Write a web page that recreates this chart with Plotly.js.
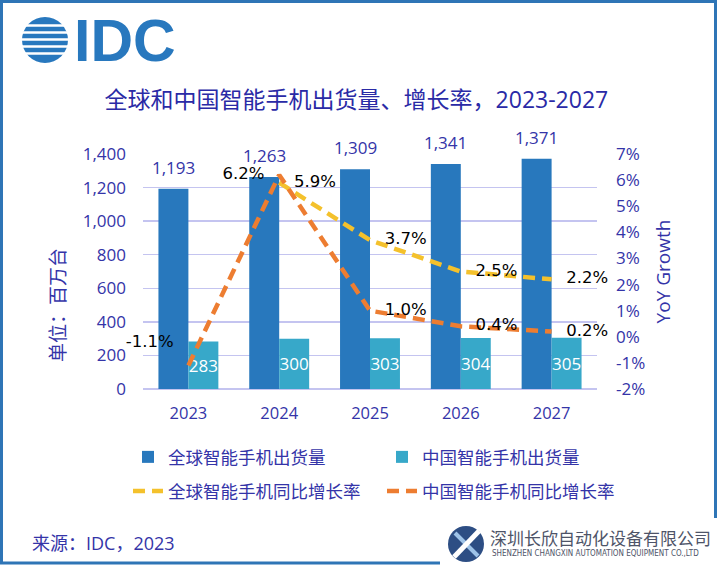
<!DOCTYPE html>
<html><head><meta charset="utf-8">
<script src="https://cdn.plot.ly/plotly-3.0.1.min.js"></script>
<style>html,body{margin:0;padding:0;background:#fff}#chart{width:720px;height:565px}</style>
</head><body><div id="chart"></div>
<script>
// ---- data ----
const years = ['2023', '2024', '2025', '2026', '2027'];
const globalShipments = [1193, 1263, 1309, 1341, 1371];
const chinaShipments = [283, 300, 303, 304, 305];
const globalYoY = [null, 5.9, 3.7, 2.5, 2.2];
const chinaYoY = [-1.1, 6.2, 1.0, 0.4, 0.2];
const rightTickVals = [-2, -1, 0, 1, 2, 3, 4, 5, 6, 7];
const rightTickText = ['-2%', '-1%', '0%', '1%', '2%', '3%', '4%', '5%', '6%', '7%'];
const seriesNames = ['全球智能手机出货量', '中国智能手机出货量', '全球智能手机同比增长率', '中国智能手机同比增长率'];

// ---- layout geometry helpers (pixels -> paper) ----
const L = 143, R = 597, T = 154, B = 389;
const fx = p => (p - L) / (R - L);
const fy = p => (B - p) / (B - T);

const FONT = 'Open Sans, Noto Sans CJK SC, sans-serif';
const TXT = '#3434A8';
const C_GLOBAL = '#2878BD';
const C_CHINA = '#37A8C9';
const C_YEL = '#F4C12C';
const C_ORA = '#ED7D31';
const LBL = {family: 'DejaVu Sans', size: 16.5, color: '#000000'};

const traces = [
  {type: 'bar', x: years, y: globalShipments, name: seriesNames[0],
   marker: {color: C_GLOBAL}, legend: 'legend', hoverinfo: 'skip'},
  {type: 'bar', x: years, y: chinaShipments, name: seriesNames[1],
   marker: {color: C_CHINA}, texttemplate: '%{y:,}', textposition: 'inside', insidetextanchor: 'middle', textangle: 0,
   textfont: {family: FONT, size: 17, color: '#ffffff'}, constraintext: 'none',
   legend: 'legend', hoverinfo: 'skip'},
  {type: 'scatter', mode: 'lines+markers+text', x: years, y: globalYoY, yaxis: 'y2', name: seriesNames[2],
   line: {color: C_YEL, width: 4.5, dash: '12px,7px'}, connectgaps: false,
   marker: {size: 22, color: 'rgba(0,0,0,0)', line: {width: 0}},
   texttemplate: '%{y:.1f}%', textposition: ['middle right', 'middle right', 'middle right', 'middle right', 'middle right'],
   textfont: LBL, cliponaxis: false, legend: 'legend2', hoverinfo: 'skip'},
  {type: 'scatter', mode: 'lines+markers+text', x: years, y: chinaYoY, yaxis: 'y2', name: seriesNames[3],
   line: {color: C_ORA, width: 4.5, dash: '12px,7px'},
   marker: {size: 22, color: 'rgba(0,0,0,0)', line: {width: 0}},
   texttemplate: '%{y:.1f}%', textposition: ['top left', 'middle left', 'middle right', 'middle right', 'middle right'],
   textfont: LBL, cliponaxis: false, legend: 'legend2', hoverinfo: 'skip'}
];

const shapes = [
  // outer frame
  {type: 'rect', xref: 'paper', yref: 'paper', x0: fx(1.5), x1: fx(715.5), y0: fy(1.5), y1: fy(563), line: {color: '#2E75B6', width: 3}, layer: 'above'},
  // white panel behind company logo
  {type: 'rect', xref: 'paper', yref: 'paper', x0: fx(440), x1: fx(720), y0: fy(518), y1: fy(566), fillcolor: '#ffffff', line: {width: 0}, layer: 'above'},
  // IDC globe
  {type: 'circle', xref: 'paper', yref: 'paper', x0: fx(22), x1: fx(68), y0: fy(63), y1: fy(17), fillcolor: '#2878BE', line: {width: 0}, layer: 'above'},
  // company icon
  {type: 'circle', xref: 'paper', yref: 'paper', x0: fx(448), x1: fx(484), y0: fy(562), y1: fy(526), fillcolor: '#2D4E84', line: {width: 0}, layer: 'above'},
  {type: 'line', xref: 'paper', yref: 'paper', x0: fx(455), x1: fx(478), y0: fy(533), y1: fy(556), line: {color: '#9EC3E8', width: 4}, layer: 'above'},
  {type: 'line', xref: 'paper', yref: 'paper', x0: fx(454), x1: fx(479), y0: fy(557), y1: fy(531), line: {color: '#ffffff', width: 5}, layer: 'above'}
];
[25.5, 32.5, 39.5, 46.5, 53.5].forEach(function (yy, i) {
  shapes.push({type: 'line', xref: 'paper', yref: 'paper', x0: fx(18 + (i % 2) * 4), x1: fx(72), y0: fy(yy), y1: fy(yy), line: {color: '#ffffff', width: 2.5}, layer: 'above'});
});

const annotations = [
  {text: 'IDC', xref: 'paper', yref: 'paper', x: fx(72), y: fy(41), xanchor: 'left', yanchor: 'middle', showarrow: false,
   font: {family: 'Liberation Sans', size: 59, color: '#2878BE', weight: 'bold'}},
  {text: '单位：百万台', xref: 'paper', yref: 'paper', x: fx(58), y: fy(305), xanchor: 'center', yanchor: 'middle', textangle: -90, showarrow: false,
   font: {family: FONT, size: 19, color: TXT}},
  {text: '来源：IDC，2023', xref: 'paper', yref: 'paper', x: fx(30), y: fy(543), xanchor: 'left', yanchor: 'middle', showarrow: false,
   font: {family: FONT, size: 18, color: TXT}},
  {text: '深圳长欣自动化设备有限公司', xref: 'paper', yref: 'paper', x: fx(488), y: fy(537), xanchor: 'left', yanchor: 'middle', showarrow: false,
   font: {family: 'Noto Sans CJK SC', size: 17, color: '#4E5468'}},
  {text: 'SHENZHEN CHANGXIN AUTOMATION EQUIPMENT CO.,LTD', xref: 'paper', yref: 'paper', x: fx(490), y: fy(553), xanchor: 'left', yanchor: 'middle', showarrow: false,
   font: {family: 'Liberation Sans Narrow, DejaVu Sans Condensed, Liberation Sans', size: 8, color: '#4E5468'}}
];
// value labels above the global bars, placed through the data axes (category index)
years.forEach(function (yr, i) {
  annotations.push({text: globalShipments[i].toLocaleString('en-US'), xref: 'x', yref: 'y', x: i, y: globalShipments[i],
    xshift: -15, yshift: 9, xanchor: 'center', yanchor: 'bottom', showarrow: false, borderpad: 0,
    font: {family: FONT, size: 17, color: TXT}});
});

const legendCommon = {orientation: 'h', xanchor: 'left', yanchor: 'middle', entrywidth: 209, entrywidthmode: 'pixels',
  font: {family: FONT, size: 17.5, color: TXT}, bgcolor: 'rgba(0,0,0,0)', borderwidth: 0};

const layout = {
  width: 720, height: 565,
  margin: {l: L, r: 720 - R, t: T, b: 565 - B, pad: 0},
  paper_bgcolor: '#ffffff', plot_bgcolor: '#ffffff',
  font: {family: FONT, color: TXT, size: 17},
  title: {text: '全球和中国智能手机出货量、增长率，2023-2027', xref: 'container', yref: 'container', x: 0.495, y: 1 - 100 / 565,
          xanchor: 'center', yanchor: 'middle', font: {family: FONT, size: 23, color: '#2A2AA6'}},
  barmode: 'group', bargap: 0.34, bargroupgap: 0,
  xaxis: {type: 'category', range: [-0.5, years.length - 0.5], showgrid: false, showline: false, zeroline: false, ticks: '',
          tickfont: {family: FONT, size: 16.5, color: TXT}, ticklabelstandoff: 12},
  yaxis: {range: [0, 1400], dtick: 200, tickformat: ',', showgrid: true, gridcolor: '#C4C4F0', gridwidth: 1.5,
          zeroline: true, zerolinecolor: '#C4C4F0', zerolinewidth: 1.5, showline: false, ticks: '',
          tickfont: {family: FONT, size: 17, color: TXT}, ticklabelstandoff: 16, fixedrange: true},
  yaxis2: {overlaying: 'y', side: 'right', range: [-2, 7], tickvals: rightTickVals, ticktext: rightTickText,
           showgrid: false, zeroline: false, showline: false, ticks: '',
           tickfont: {family: FONT, size: 17, color: TXT}, ticklabelstandoff: 18,
           title: {text: 'YoY Growth', font: {family: FONT, size: 19, color: TXT}, standoff: 12}},
  legend: Object.assign({}, legendCommon, {x: fx(128), y: fy(457)}),
  legend2: Object.assign({}, legendCommon, {x: fx(128), y: fy(491)}),
  shapes: shapes,
  annotations: annotations,
  hovermode: false
};

Plotly.newPlot('chart', traces, layout, {displayModeBar: false, staticPlot: true});
</script>
</body></html>
